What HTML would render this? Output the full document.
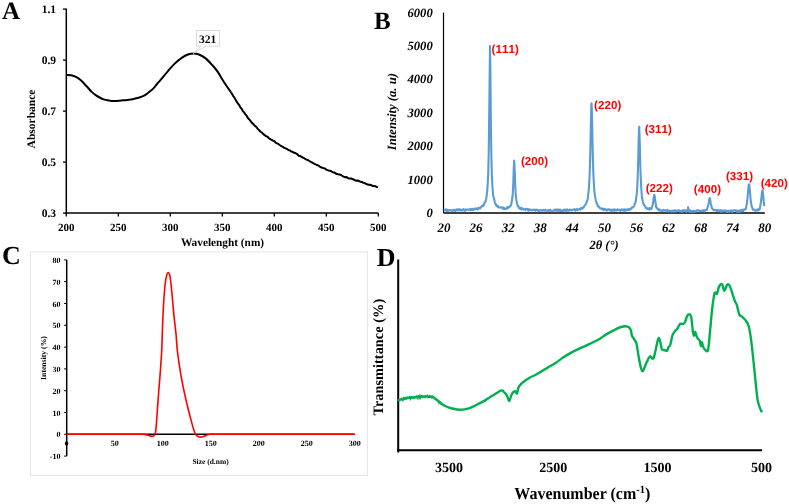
<!DOCTYPE html>
<html><head><meta charset="utf-8"><style>
html,body{margin:0;padding:0;background:#fff;}
svg{display:block;will-change:transform;}
text{text-rendering:geometricPrecision;}
.s{font-family:"Liberation Serif",serif;font-weight:bold;fill:#000;}
.si{font-family:"Liberation Serif",serif;font-weight:bold;font-style:italic;fill:#000;}
.r{font-family:"Liberation Sans",sans-serif;font-weight:bold;fill:#ff0000;font-kerning:none;letter-spacing:0.05px;}
</style></head><body>
<svg width="789" height="504" viewBox="0 0 789 504">
<rect width="789" height="504" fill="#fff"/>
<text class="s" x="2.00" y="18.80" font-size="25">A</text>
<line x1="66.3" y1="8.6" x2="66.3" y2="213.79999999999998" stroke="#000" stroke-width="1.5"/>
<line x1="65.6" y1="213.1" x2="378.3" y2="213.1" stroke="#000" stroke-width="1.5"/>
<line x1="63.0" y1="9.1" x2="66.3" y2="9.1" stroke="#000" stroke-width="1.3"/>
<text class="s" x="56.00" y="12.90" text-anchor="end" font-size="11.5">1.1</text>
<line x1="63.0" y1="60.1" x2="66.3" y2="60.1" stroke="#000" stroke-width="1.3"/>
<text class="s" x="56.00" y="63.90" text-anchor="end" font-size="11.5">0.9</text>
<line x1="63.0" y1="111.1" x2="66.3" y2="111.1" stroke="#000" stroke-width="1.3"/>
<text class="s" x="56.00" y="114.90" text-anchor="end" font-size="11.5">0.7</text>
<line x1="63.0" y1="162.1" x2="66.3" y2="162.1" stroke="#000" stroke-width="1.3"/>
<text class="s" x="56.00" y="165.90" text-anchor="end" font-size="11.5">0.5</text>
<line x1="63.0" y1="213.1" x2="66.3" y2="213.1" stroke="#000" stroke-width="1.3"/>
<text class="s" x="56.00" y="216.90" text-anchor="end" font-size="11.5">0.3</text>
<line x1="66.3" y1="213.1" x2="66.3" y2="216.4" stroke="#000" stroke-width="1.3"/>
<text class="s" x="66.30" y="231.00" text-anchor="middle" font-size="11">200</text>
<line x1="118.3" y1="213.1" x2="118.3" y2="216.4" stroke="#000" stroke-width="1.3"/>
<text class="s" x="118.30" y="231.00" text-anchor="middle" font-size="11">250</text>
<line x1="170.3" y1="213.1" x2="170.3" y2="216.4" stroke="#000" stroke-width="1.3"/>
<text class="s" x="170.30" y="231.00" text-anchor="middle" font-size="11">300</text>
<line x1="222.3" y1="213.1" x2="222.3" y2="216.4" stroke="#000" stroke-width="1.3"/>
<text class="s" x="222.30" y="231.00" text-anchor="middle" font-size="11">350</text>
<line x1="274.3" y1="213.1" x2="274.3" y2="216.4" stroke="#000" stroke-width="1.3"/>
<text class="s" x="274.30" y="231.00" text-anchor="middle" font-size="11">400</text>
<line x1="326.3" y1="213.1" x2="326.3" y2="216.4" stroke="#000" stroke-width="1.3"/>
<text class="s" x="326.30" y="231.00" text-anchor="middle" font-size="11">450</text>
<line x1="378.3" y1="213.1" x2="378.3" y2="216.4" stroke="#000" stroke-width="1.3"/>
<text class="s" x="378.30" y="231.00" text-anchor="middle" font-size="11">500</text>
<text class="s" x="222.50" y="246.00" text-anchor="middle" font-size="11.3">Wavelenght (nm)</text>
<text class="s" transform="translate(35,119) rotate(-90)" text-anchor="middle" font-size="11.5">Absorbance</text>
<path d="M66.30,74.90 C67.10,74.95 69.50,74.88 71.10,75.20 C72.70,75.52 74.32,76.00 75.90,76.80 C77.48,77.60 79.28,78.93 80.60,80.00 C81.92,81.07 82.60,81.95 83.80,83.20 C85.00,84.45 86.48,86.05 87.80,87.50 C89.12,88.95 90.38,90.63 91.70,91.90 C93.02,93.17 94.37,94.17 95.70,95.10 C97.03,96.03 98.37,96.78 99.70,97.50 C101.03,98.22 102.38,98.93 103.70,99.40 C105.02,99.87 105.88,100.02 107.60,100.30 C109.32,100.58 111.35,101.10 114.00,101.10 C116.65,101.10 120.60,100.58 123.50,100.30 C126.40,100.02 128.75,99.87 131.40,99.40 C134.05,98.93 137.28,98.13 139.40,97.50 C141.52,96.87 142.78,96.27 144.10,95.60 C145.42,94.93 146.10,94.38 147.30,93.50 C148.50,92.62 150.20,91.23 151.30,90.30 C152.40,89.37 152.95,88.95 153.90,87.90 C154.85,86.85 155.85,85.38 157.00,84.00 C158.15,82.62 159.00,81.72 160.80,79.60 C162.60,77.48 165.48,73.97 167.80,71.30 C170.12,68.63 172.38,65.85 174.70,63.60 C177.02,61.35 179.38,59.35 181.70,57.80 C184.02,56.25 186.63,55.02 188.60,54.30 C190.57,53.58 191.88,53.50 193.50,53.50 C195.12,53.50 196.33,53.53 198.30,54.30 C200.27,55.07 202.98,56.32 205.30,58.10 C207.62,59.88 210.12,62.70 212.20,65.00 C214.28,67.30 215.95,69.23 217.80,71.90 C219.65,74.57 221.22,77.75 223.30,81.00 C225.38,84.25 229.13,89.67 230.30,91.40" fill="none" stroke="#000" stroke-width="2"/>
<polyline points="230.30,91.40 231.62,93.24 232.95,95.59 234.28,97.51 235.60,99.70 236.80,101.72 238.00,103.66 239.20,105.08 240.40,107.40 241.62,108.69 242.85,111.15 244.08,112.36 245.30,114.30 246.68,115.81 248.05,118.25 249.43,119.52 250.80,121.30 252.20,123.12 253.60,124.32 255.00,125.99 256.40,127.07 257.80,128.90 259.18,130.26 260.56,131.71 261.94,132.64 263.32,134.08 264.70,135.10 266.10,136.23 267.50,136.67 268.90,138.27 270.30,139.10 271.70,140.00 273.08,140.66 274.46,141.26 275.84,142.85 277.22,143.34 278.60,144.20 280.00,145.22 281.40,146.18 282.80,146.85 284.20,147.86 285.60,148.30 286.98,148.91 288.36,149.97 289.74,150.35 291.12,151.49 292.50,151.80 293.75,152.84 295.00,152.84 296.25,153.57 297.50,154.35 298.75,155.72 300.00,156.00 301.20,156.60 302.40,157.43 303.60,157.80 304.80,158.65 306.00,159.30 307.48,159.97 308.95,160.72 310.42,161.70 311.90,162.40 313.10,163.04 314.30,163.88 315.50,164.24 316.70,165.03 317.90,165.20 319.38,166.30 320.85,167.19 322.32,167.68 323.80,168.30 325.00,168.48 326.20,169.58 327.40,170.16 328.60,170.58 329.80,170.70 331.27,171.41 332.75,172.19 334.23,172.39 335.70,173.30 336.90,174.04 338.10,174.25 339.30,174.43 340.50,174.67 341.70,175.50 343.18,176.42 344.65,177.14 346.12,176.93 347.60,177.90 348.80,178.49 350.00,178.46 351.20,178.55 352.40,178.99 353.60,179.50 355.08,180.22 356.55,180.79 358.02,180.51 359.50,181.40 360.70,181.92 361.90,181.83 363.10,182.86 364.30,182.93 365.50,183.50 366.98,184.27 368.45,184.78 369.92,184.78 371.40,185.20 372.72,186.09 374.04,185.91 375.36,186.14 376.68,187.05 378.00,187.40" fill="none" stroke="#000" stroke-width="2" stroke-linejoin="round"/>
<path d="M196.5,30.5 H219.5 V46.2 H206 L193,53.5 L201,46.2 H196.5 Z" fill="#fff" stroke="#d0d0d0" stroke-width="0.8"/>
<text class="s" x="207.50" y="43.00" text-anchor="middle" font-size="11.5">321</text>
<text class="s" x="374.00" y="29.00" font-size="25">B</text>
<line x1="443.5" y1="12.6" x2="443.5" y2="212.9" stroke="#000" stroke-width="1.2"/>
<line x1="443.5" y1="212.9" x2="764.8" y2="212.9" stroke="#000" stroke-width="1.5"/>
<text class="si" x="432.80" y="216.90" text-anchor="end" font-size="12.7">0</text>
<text class="si" x="432.80" y="183.50" text-anchor="end" font-size="12.7">1000</text>
<text class="si" x="432.80" y="150.10" text-anchor="end" font-size="12.7">2000</text>
<text class="si" x="432.80" y="116.70" text-anchor="end" font-size="12.7">3000</text>
<text class="si" x="432.80" y="83.30" text-anchor="end" font-size="12.7">4000</text>
<text class="si" x="432.80" y="49.90" text-anchor="end" font-size="12.7">5000</text>
<text class="si" x="432.80" y="16.50" text-anchor="end" font-size="12.7">6000</text>
<text class="si" x="444.00" y="232.00" text-anchor="middle" font-size="13">20</text>
<text class="si" x="476.08" y="232.00" text-anchor="middle" font-size="13">26</text>
<text class="si" x="508.16" y="232.00" text-anchor="middle" font-size="13">32</text>
<text class="si" x="540.25" y="232.00" text-anchor="middle" font-size="13">38</text>
<text class="si" x="572.33" y="232.00" text-anchor="middle" font-size="13">44</text>
<text class="si" x="604.41" y="232.00" text-anchor="middle" font-size="13">50</text>
<text class="si" x="636.49" y="232.00" text-anchor="middle" font-size="13">56</text>
<text class="si" x="668.57" y="232.00" text-anchor="middle" font-size="13">62</text>
<text class="si" x="700.66" y="232.00" text-anchor="middle" font-size="13">68</text>
<text class="si" x="732.74" y="232.00" text-anchor="middle" font-size="13">74</text>
<text class="si" x="764.82" y="232.00" text-anchor="middle" font-size="13">80</text>
<text class="si" x="604.00" y="248.60" text-anchor="middle" font-size="12.5">2θ (°)</text>
<text class="si" transform="translate(396.3,111.6) rotate(-90)" text-anchor="middle" font-size="12.7">Intensity (a. u)</text>
<polyline points="443.80,209.38 444.30,209.67 444.80,210.05 445.30,210.41 445.80,209.59 446.30,209.39 446.80,210.87 447.30,209.87 447.80,211.03 448.30,210.91 448.80,209.98 449.30,210.12 449.80,210.22 450.30,210.44 450.80,210.35 451.30,210.28 451.80,210.39 452.30,210.96 452.80,210.18 453.30,210.03 453.80,210.55 454.30,209.68 454.80,209.78 455.30,211.00 455.80,210.17 456.30,210.21 456.80,209.24 457.30,209.96 457.80,210.25 458.30,209.23 458.80,210.29 459.30,210.31 459.80,209.27 460.30,210.28 460.80,209.98 461.30,210.36 461.80,209.76 462.30,210.38 462.80,210.42 463.30,209.12 463.80,209.18 464.30,210.27 464.80,210.77 465.30,209.47 465.80,209.82 466.30,210.04 466.80,209.53 467.30,209.59 467.80,209.47 468.30,209.55 468.80,209.92 469.30,209.36 469.80,209.47 470.30,210.15 470.80,208.77 471.30,209.70 471.80,209.96 472.30,209.15 472.80,208.94 473.30,209.93 473.80,208.85 474.30,208.69 474.80,209.07 475.30,209.46 475.80,208.30 476.30,208.61 476.80,208.52 477.30,209.31 477.80,208.47 478.30,209.08 478.80,207.68 479.30,207.81 479.80,208.17 480.30,208.37 480.80,207.33 481.30,206.62 481.80,206.10 482.30,206.44 482.80,205.36 483.30,205.92 483.80,205.32 484.30,203.35 484.80,202.53 485.30,202.24 485.80,200.33 486.30,198.45 486.80,194.57 487.30,189.66 487.80,182.80 488.30,171.44 488.80,147.83 489.30,106.19 490.00,46.04 490.30,61.99 490.80,116.46 491.30,153.71 491.80,173.77 492.30,184.71 492.80,191.17 493.30,196.24 493.80,197.68 494.30,199.44 494.80,202.65 495.30,203.70 495.80,204.82 496.30,204.58 496.80,206.12 497.30,206.59 497.80,205.75 498.30,207.05 498.80,207.53 499.30,207.48 499.80,207.44 500.30,207.22 500.80,207.48 501.30,207.41 501.80,207.24 502.30,208.27 502.80,207.80 503.30,208.80 503.80,207.46 504.30,209.02 504.80,208.65 505.30,209.04 505.80,208.95 506.30,208.90 506.80,208.23 507.30,207.09 507.80,208.25 508.30,207.01 508.80,206.97 509.30,207.26 509.80,206.54 510.30,205.69 510.80,205.73 511.30,203.82 511.80,201.29 512.30,197.78 512.80,193.05 513.30,182.09 513.80,167.26 514.20,160.66 514.80,173.38 515.30,186.94 515.80,195.78 516.30,199.69 516.80,202.19 517.30,204.55 517.80,206.23 518.30,205.91 518.80,207.64 519.30,208.35 519.80,208.51 520.30,208.85 520.80,207.63 521.30,208.95 521.80,209.55 522.30,208.23 522.80,208.76 523.30,208.87 523.80,209.43 524.30,209.33 524.80,209.50 525.30,210.12 525.80,208.78 526.30,208.93 526.80,209.11 527.30,209.16 527.80,209.10 528.30,210.77 528.80,210.58 529.30,209.23 529.80,210.01 530.30,209.70 530.80,209.73 531.30,209.81 531.80,210.37 532.30,210.28 532.80,209.89 533.30,209.60 533.80,209.87 534.30,209.52 534.80,210.31 535.30,210.61 535.80,210.02 536.30,209.49 536.80,209.68 537.30,210.04 537.80,210.47 538.30,210.80 538.80,210.08 539.30,210.85 539.80,210.53 540.30,210.20 540.80,210.10 541.30,210.33 541.80,210.70 542.30,210.20 542.80,210.70 543.30,210.29 543.80,209.90 544.30,210.43 544.80,210.72 545.30,209.60 545.80,210.24 546.30,210.25 546.80,211.07 547.30,211.17 547.80,210.16 548.30,211.11 548.80,210.92 549.30,209.97 549.80,210.33 550.30,209.72 550.80,210.96 551.30,210.69 551.80,211.10 552.30,210.93 552.80,210.70 553.30,210.82 553.80,210.51 554.30,209.68 554.80,210.56 555.30,209.51 555.80,209.75 556.30,210.89 556.80,209.57 557.30,209.65 557.80,209.66 558.30,211.07 558.80,209.80 559.30,209.52 559.80,210.98 560.30,209.68 560.80,210.98 561.30,210.67 561.80,210.95 562.30,211.15 562.80,210.48 563.30,210.86 563.80,209.48 564.30,210.79 564.80,210.32 565.30,210.67 565.80,209.57 566.30,210.71 566.80,211.03 567.30,209.44 567.80,209.90 568.30,210.32 568.80,210.78 569.30,209.70 569.80,209.57 570.30,209.67 570.80,210.31 571.30,210.53 571.80,209.85 572.30,209.77 572.80,209.79 573.30,209.67 573.80,209.76 574.30,209.11 574.80,209.81 575.30,210.61 575.80,209.55 576.30,210.09 576.80,208.97 577.30,209.85 577.80,209.88 578.30,209.64 578.80,209.25 579.30,209.08 579.80,209.24 580.30,209.55 580.80,208.04 581.30,207.75 581.80,208.71 582.30,208.76 582.80,207.76 583.30,207.29 583.80,207.38 584.30,205.95 584.80,205.53 585.30,204.71 585.80,204.54 586.30,202.97 586.80,201.43 587.30,200.42 587.80,198.41 588.30,193.77 588.80,189.49 589.30,181.42 589.80,170.51 590.30,151.94 590.80,126.94 591.30,105.67 591.50,103.24 591.80,108.57 592.30,132.21 592.80,155.59 593.30,172.14 593.80,182.50 594.30,190.25 594.80,194.72 595.30,197.58 595.80,200.24 596.30,201.91 596.80,204.05 597.30,203.95 597.80,206.30 598.30,206.04 598.80,206.81 599.30,207.03 599.80,208.08 600.30,208.38 600.80,208.19 601.30,208.29 601.80,208.93 602.30,209.36 602.80,208.70 603.30,209.44 603.80,209.98 604.30,209.20 604.80,208.87 605.30,208.97 605.80,209.92 606.30,209.92 606.80,210.50 607.30,210.37 607.80,209.32 608.30,209.27 608.80,209.44 609.30,209.35 609.80,210.32 610.30,210.63 610.80,210.73 611.30,209.60 611.80,210.72 612.30,209.75 612.80,209.97 613.30,210.54 613.80,209.39 614.30,209.42 614.80,210.76 615.30,209.80 615.80,209.92 616.30,210.33 616.80,210.50 617.30,209.30 617.80,209.89 618.30,210.07 618.80,210.16 619.30,209.66 619.80,210.33 620.30,210.98 620.80,209.95 621.30,210.22 621.80,209.43 622.30,209.69 622.80,210.37 623.30,209.35 623.80,210.71 624.30,210.72 624.80,209.22 625.30,210.69 625.80,209.62 626.30,210.28 626.80,210.18 627.30,209.28 627.80,209.88 628.30,209.74 628.80,209.90 629.30,208.79 629.80,209.52 630.30,209.72 630.80,208.99 631.30,208.50 631.80,207.44 632.30,207.77 632.80,207.08 633.30,207.21 633.80,206.46 634.30,205.40 634.80,203.58 635.30,202.90 635.80,200.77 636.30,196.94 636.80,193.68 637.30,186.15 637.80,173.71 638.30,156.50 638.80,135.05 639.20,126.81 639.80,143.30 640.30,165.25 640.80,179.00 641.30,188.81 641.80,195.42 642.30,199.04 642.80,201.56 643.30,203.56 643.80,204.55 644.30,205.30 644.80,205.82 645.30,206.23 645.80,207.88 646.30,208.33 646.80,208.26 647.30,208.86 647.80,208.37 648.30,208.36 648.80,208.68 649.30,209.63 649.80,208.15 650.30,208.95 650.80,208.36 651.30,209.02 651.80,207.67 652.30,206.39 652.80,204.22 653.30,200.93 653.80,196.81 654.30,194.78 654.80,196.91 655.30,201.54 655.80,204.41 656.30,207.70 656.80,207.73 657.30,208.72 657.80,208.81 658.30,209.09 658.80,210.46 659.30,210.50 659.80,209.63 660.30,209.72 660.80,210.20 661.30,210.85 661.80,211.03 662.30,210.95 662.80,210.70 663.30,209.94 663.80,210.42 664.30,210.08 664.80,210.70 665.30,210.80 665.80,210.16 666.30,210.26 666.80,211.23 667.30,209.90 667.80,211.30 668.30,211.48 668.80,211.59 669.30,210.59 669.80,210.90 670.30,210.97 670.80,211.07 671.30,211.70 671.80,211.18 672.30,210.49 672.80,211.51 673.30,210.84 673.80,211.06 674.30,211.29 674.80,210.00 675.30,211.39 675.80,211.20 676.30,210.90 676.80,210.96 677.30,210.85 677.80,210.38 678.30,210.99 678.80,210.11 679.30,210.94 679.80,211.21 680.30,210.85 680.80,211.08 681.30,211.79 681.80,211.67 682.30,210.31 682.80,211.50 683.30,211.20 683.80,210.17 684.30,210.73 684.80,210.51 685.30,210.23 685.80,211.06 686.30,211.77 686.80,210.68 687.30,210.90 687.80,208.72 688.10,207.20 688.80,210.77 689.30,211.67 689.80,211.36 690.30,210.35 690.80,211.66 691.30,211.20 691.80,211.78 692.30,211.40 692.80,211.45 693.30,210.73 693.80,211.57 694.30,211.79 694.80,211.66 695.30,210.90 695.80,211.47 696.30,210.98 696.80,210.30 697.30,210.18 697.80,210.24 698.30,210.45 698.80,210.37 699.30,210.97 699.80,211.32 700.30,211.02 700.80,210.80 701.30,211.19 701.80,210.55 702.30,210.81 702.80,211.31 703.30,210.63 703.80,210.18 704.30,211.41 704.80,211.00 705.30,210.25 705.80,210.10 706.30,210.14 706.80,209.83 707.30,208.37 707.80,206.57 708.30,204.67 708.80,202.13 709.30,199.14 709.70,198.14 710.30,200.22 710.80,203.94 711.30,205.58 711.80,208.06 712.30,208.71 712.80,209.36 713.30,209.63 713.80,210.26 714.30,209.98 714.80,209.83 715.30,210.05 715.80,210.22 716.30,210.85 716.80,210.11 717.30,210.08 717.80,210.87 718.30,210.82 718.80,211.37 719.30,210.21 719.80,210.86 720.30,210.86 720.80,210.21 721.30,211.91 721.80,210.57 722.30,210.35 722.80,211.04 723.30,210.49 723.80,211.32 724.30,210.83 724.80,210.43 725.30,210.30 725.80,211.52 726.30,210.71 726.80,211.63 727.30,211.05 727.80,211.90 728.30,210.76 728.80,210.67 729.30,210.70 729.80,211.68 730.30,211.35 730.80,210.83 731.30,210.38 731.80,211.44 732.30,211.95 732.80,211.27 733.30,210.20 733.80,210.24 734.30,210.35 734.80,210.48 735.30,210.23 735.80,210.25 736.30,211.32 736.80,211.75 737.30,210.47 737.80,211.85 738.30,210.93 738.80,211.50 739.30,211.67 739.80,211.68 740.30,210.01 740.80,210.45 741.30,210.94 741.80,211.48 742.30,209.85 742.80,210.12 743.30,211.00 743.80,209.51 744.30,209.78 744.80,209.36 745.30,209.46 745.80,209.01 746.30,206.05 746.80,204.36 747.30,200.24 747.80,194.99 748.30,188.61 748.80,184.71 749.00,184.31 749.30,185.19 749.80,189.69 750.30,195.62 750.80,201.48 751.30,204.28 751.80,206.81 752.30,207.89 752.80,209.67 753.30,209.58 753.80,209.47 754.30,209.47 754.80,210.59 755.30,210.46 755.80,210.70 756.30,210.13 756.80,210.30 757.30,209.65 757.80,210.57 758.30,209.18 758.80,209.72 759.30,209.76 759.80,208.66 760.30,205.77 760.80,202.82 761.30,199.27 761.80,193.46 762.40,190.19 762.80,191.78 763.30,196.59 763.80,201.92 764.30,206.18" fill="none" stroke="#5b9bd5" stroke-width="2.1" stroke-linejoin="round"/>
<text class="r" x="491.60" y="52.90" font-size="11.6">(111)</text>
<text class="r" x="520.90" y="165.30" font-size="11.6">(200)</text>
<text class="r" x="594.10" y="108.80" font-size="11.6">(220)</text>
<text class="r" x="644.70" y="133.20" font-size="11.6">(311)</text>
<text class="r" x="645.70" y="192.30" font-size="11.6">(222)</text>
<text class="r" x="693.80" y="193.30" font-size="11.6">(400)</text>
<text class="r" x="725.90" y="179.70" font-size="11.6">(331)</text>
<text class="r" x="760.70" y="186.70" font-size="11.6">(420)</text>
<rect x="30.6" y="251.9" width="336.8" height="223.6" fill="none" stroke="#e4e4e4" stroke-width="1"/>
<text class="s" x="2.00" y="264.40" font-size="26">C</text>
<line x1="66.7" y1="259.9" x2="66.7" y2="456.1" stroke="#000" stroke-width="1.5"/>
<line x1="66.7" y1="434.29999999999995" x2="354.7" y2="434.29999999999995" stroke="#000" stroke-width="1.4"/>
<line x1="64.10000000000001" y1="259.9" x2="66.7" y2="259.9" stroke="#000" stroke-width="1"/>
<text class="s" x="60.40" y="262.90" text-anchor="end" font-size="8">80</text>
<line x1="64.10000000000001" y1="281.7" x2="66.7" y2="281.7" stroke="#000" stroke-width="1"/>
<text class="s" x="60.40" y="284.70" text-anchor="end" font-size="8">70</text>
<line x1="64.10000000000001" y1="303.5" x2="66.7" y2="303.5" stroke="#000" stroke-width="1"/>
<text class="s" x="60.40" y="306.50" text-anchor="end" font-size="8">60</text>
<line x1="64.10000000000001" y1="325.29999999999995" x2="66.7" y2="325.29999999999995" stroke="#000" stroke-width="1"/>
<text class="s" x="60.40" y="328.30" text-anchor="end" font-size="8">50</text>
<line x1="64.10000000000001" y1="347.09999999999997" x2="66.7" y2="347.09999999999997" stroke="#000" stroke-width="1"/>
<text class="s" x="60.40" y="350.10" text-anchor="end" font-size="8">40</text>
<line x1="64.10000000000001" y1="368.9" x2="66.7" y2="368.9" stroke="#000" stroke-width="1"/>
<text class="s" x="60.40" y="371.90" text-anchor="end" font-size="8">30</text>
<line x1="64.10000000000001" y1="390.7" x2="66.7" y2="390.7" stroke="#000" stroke-width="1"/>
<text class="s" x="60.40" y="393.70" text-anchor="end" font-size="8">20</text>
<line x1="64.10000000000001" y1="412.5" x2="66.7" y2="412.5" stroke="#000" stroke-width="1"/>
<text class="s" x="60.40" y="415.50" text-anchor="end" font-size="8">10</text>
<line x1="64.10000000000001" y1="434.29999999999995" x2="66.7" y2="434.29999999999995" stroke="#000" stroke-width="1"/>
<text class="s" x="60.40" y="437.30" text-anchor="end" font-size="8">0</text>
<line x1="64.10000000000001" y1="456.1" x2="66.7" y2="456.1" stroke="#000" stroke-width="1"/>
<text class="s" x="60.40" y="459.10" text-anchor="end" font-size="8">-10</text>
<text class="s" x="114.70" y="446.30" text-anchor="middle" font-size="8">50</text>
<text class="s" x="162.70" y="446.30" text-anchor="middle" font-size="8">100</text>
<text class="s" x="210.70" y="446.30" text-anchor="middle" font-size="8">150</text>
<text class="s" x="258.70" y="446.30" text-anchor="middle" font-size="8">200</text>
<text class="s" x="306.70" y="446.30" text-anchor="middle" font-size="8">250</text>
<text class="s" x="354.70" y="446.30" text-anchor="middle" font-size="8">300</text>
<ellipse cx="66.6" cy="443.4" rx="1.7" ry="2.2" fill="#000"/>
<text class="s" x="210.50" y="463.90" text-anchor="middle" font-size="7.5">Size (d.nm)</text>
<text class="s" transform="translate(46.1,358) rotate(-90)" text-anchor="middle" font-size="7.7">Intensity (%)</text>
<path d="M66.7,434.3 L142,434.3  C142.43,434.32 143.60,434.25 144.60,434.40 C145.60,434.55 146.87,434.90 148.00,435.20 C149.13,435.50 150.48,436.07 151.40,436.20 C152.32,436.33 152.93,436.20 153.50,436.00 C154.07,435.80 154.45,435.67 154.80,435.00 C155.15,434.33 155.30,434.32 155.60,432.00 C155.90,429.68 156.17,426.72 156.60,421.10 C157.03,415.48 157.63,405.88 158.20,398.30 C158.77,390.72 159.43,383.18 160.00,375.60 C160.57,368.02 161.22,359.73 161.60,352.80 C161.98,345.87 162.12,339.13 162.30,334.00 C162.48,328.87 162.53,326.17 162.70,322.00 C162.87,317.83 163.07,313.33 163.30,309.00 C163.53,304.67 163.80,300.08 164.10,296.00 C164.40,291.92 164.70,287.83 165.10,284.50 C165.50,281.17 166.00,277.98 166.50,276.00 C167.00,274.02 167.57,272.77 168.10,272.60 C168.63,272.43 169.23,273.27 169.70,275.00 C170.17,276.73 170.53,280.00 170.90,283.00 C171.27,286.00 171.57,289.50 171.90,293.00 C172.23,296.50 172.57,300.33 172.90,304.00 C173.23,307.67 173.55,311.50 173.90,315.00 C174.25,318.50 174.63,321.67 175.00,325.00 C175.37,328.33 175.67,330.37 176.10,335.00 C176.53,339.63 176.78,346.03 177.60,352.80 C178.42,359.57 179.67,368.02 181.00,375.60 C182.33,383.18 183.88,390.72 185.60,398.30 C187.32,405.88 189.78,415.40 191.30,421.10 C192.82,426.80 193.75,430.03 194.70,432.50 C195.65,434.97 196.05,435.13 197.00,435.90 C197.95,436.67 199.08,437.10 200.40,437.10 C201.72,437.10 203.72,436.28 204.90,435.90 C206.08,435.52 206.73,435.07 207.50,434.80 C208.27,434.53 208.75,434.38 209.50,434.30 C210.25,434.22 211.58,434.30 212.00,434.30 L354.5,434.3" fill="none" stroke="#ff0000" stroke-width="1.6"/>
<text class="s" x="376.80" y="266.00" font-size="26">D</text>
<line x1="398.2" y1="259.5" x2="398.2" y2="452.5" stroke="#000" stroke-width="2"/>
<line x1="397.2" y1="450.2" x2="762" y2="450.2" stroke="#000" stroke-width="2"/>
<text class="s" x="449.00" y="472.00" text-anchor="middle" font-size="14">3500</text>
<text class="s" x="553.20" y="472.00" text-anchor="middle" font-size="14">2500</text>
<text class="s" x="657.40" y="472.00" text-anchor="middle" font-size="14">1500</text>
<text class="s" x="761.60" y="472.00" text-anchor="middle" font-size="14">500</text>
<text class="s" transform="translate(382.7,357.2) rotate(-90)" text-anchor="middle" font-size="14.4">Transmittance (%)</text>
<text class="s" transform="translate(514.3,498.7) scale(1,1.06)" font-size="16">Wavenumber (cm<tspan dy="-5.5" font-size="10.5">-1</tspan><tspan dy="5.5">)</tspan></text>
<path d="M438.30,401.10 C438.88,401.58 440.47,403.10 441.80,404.00 C443.13,404.90 444.60,405.75 446.30,406.50 C448.00,407.25 449.90,407.97 452.00,408.50 C454.10,409.03 456.62,409.60 458.90,409.70 C461.18,409.80 463.42,409.58 465.70,409.10 C467.98,408.62 470.32,407.75 472.60,406.80 C474.88,405.85 477.32,404.47 479.40,403.40 C481.48,402.33 483.32,401.47 485.10,400.40 C486.88,399.33 488.42,398.07 490.10,397.00 C491.78,395.93 493.50,395.02 495.20,394.00 C496.90,392.98 499.12,391.50 500.30,390.90 C501.48,390.30 501.63,390.13 502.30,390.40 C502.97,390.67 503.53,391.65 504.30,392.50 C505.07,393.35 506.08,394.07 506.90,395.50 C507.72,396.93 508.45,401.18 509.20,401.10 C509.95,401.02 510.68,396.52 511.40,395.00 C512.12,393.48 512.82,392.60 513.50,392.00 C514.18,391.40 514.92,391.15 515.50,391.40 C516.08,391.65 516.50,394.17 517.00,393.50 C517.50,392.83 517.73,389.10 518.50,387.40 C519.27,385.70 520.42,384.48 521.60,383.30 C522.78,382.12 524.20,381.27 525.60,380.30 C527.00,379.33 528.30,378.43 530.00,377.50 C531.70,376.57 534.13,375.58 535.80,374.70 C537.47,373.82 537.98,373.40 540.00,372.20 C542.02,371.00 545.25,369.08 547.90,367.50 C550.55,365.92 553.25,364.43 555.90,362.70 C558.55,360.97 561.17,358.82 563.80,357.10 C566.43,355.38 569.05,353.85 571.70,352.40 C574.35,350.95 577.05,349.65 579.70,348.40 C582.35,347.15 584.95,346.13 587.60,344.90 C590.25,343.67 593.48,342.08 595.60,341.00 C597.72,339.92 598.45,339.55 600.30,338.40 C602.15,337.25 604.32,335.53 606.70,334.10 C609.08,332.67 612.22,330.98 614.60,329.80 C616.98,328.62 619.15,327.60 621.00,327.00 C622.85,326.40 624.38,326.15 625.70,326.20 C627.02,326.25 628.05,326.63 628.90,327.30 C629.75,327.97 630.30,328.80 630.80,330.20 C631.30,331.60 631.38,334.27 631.90,335.70 C632.42,337.13 633.28,337.82 633.90,338.80 C634.52,339.78 635.15,340.73 635.60,341.60 C636.05,342.47 636.12,341.67 636.60,344.00 C637.08,346.33 637.83,351.82 638.50,355.60 C639.17,359.38 639.93,364.07 640.60,366.70 C641.27,369.33 641.80,371.40 642.50,371.40 C643.20,371.40 644.02,368.42 644.80,366.70 C645.58,364.98 646.32,362.83 647.20,361.10 C648.08,359.37 649.30,356.75 650.10,356.30 C650.90,355.85 651.42,358.13 652.00,358.40 C652.58,358.67 653.02,359.17 653.60,357.90 C654.18,356.63 654.85,353.57 655.50,350.80 C656.15,348.03 656.90,343.42 657.50,341.30 C658.10,339.18 658.57,337.70 659.10,338.10 C659.63,338.50 660.25,341.85 660.70,343.70 C661.15,345.55 661.27,348.15 661.80,349.20 C662.33,350.25 663.28,349.78 663.90,350.00 C664.52,350.22 664.97,350.37 665.50,350.50 C666.03,350.63 666.57,351.42 667.10,350.80 C667.63,350.18 668.18,347.73 668.70,346.80 C669.22,345.87 669.55,347.18 670.20,345.20 C670.85,343.22 671.67,337.40 672.60,334.90 C673.53,332.40 675.00,331.25 675.80,330.20 C676.60,329.15 676.67,329.67 677.40,328.60 C678.13,327.53 679.28,324.55 680.20,323.80 C681.12,323.05 682.10,324.37 682.90,324.10 C683.70,323.83 684.28,323.57 685.00,322.20 C685.72,320.83 686.45,317.22 687.20,315.90 C687.95,314.58 688.82,314.03 689.50,314.30 C690.18,314.57 690.73,314.60 691.30,317.50 C691.87,320.40 692.45,328.67 692.90,331.70 C693.35,334.73 693.62,335.70 694.00,335.70 C694.38,335.70 694.80,331.70 695.20,331.70 C695.60,331.70 695.93,334.50 696.40,335.70 C696.87,336.90 697.47,338.10 698.00,338.90 C698.53,339.70 699.12,339.32 699.60,340.50 C700.08,341.68 700.50,345.73 700.90,346.00 C701.30,346.27 701.63,341.97 702.00,342.10 C702.37,342.23 702.58,345.53 703.10,346.80 C703.62,348.07 704.27,349.22 705.10,349.70 C705.93,350.18 707.25,353.07 708.10,349.70 C708.95,346.33 709.52,336.33 710.20,329.50 C710.88,322.67 711.47,314.75 712.20,308.70 C712.93,302.65 713.80,295.68 714.60,293.20 C715.40,290.72 716.25,294.93 717.00,293.80 C717.75,292.67 718.25,287.98 719.10,286.40 C719.95,284.82 721.25,283.57 722.10,284.30 C722.95,285.03 723.37,290.70 724.20,290.80 C725.03,290.90 726.22,285.78 727.10,284.90 C727.98,284.02 728.60,284.02 729.50,285.50 C730.40,286.98 731.60,291.18 732.50,293.80 C733.40,296.42 734.17,299.32 734.90,301.20 C735.63,303.08 736.17,302.87 736.90,305.10 C737.63,307.33 738.45,312.67 739.30,314.60 C740.15,316.53 740.90,315.70 742.00,316.70 C743.10,317.70 744.77,318.97 745.90,320.60 C747.03,322.23 747.97,323.53 748.80,326.50 C749.63,329.47 750.15,332.93 750.90,338.40 C751.65,343.87 752.50,351.85 753.30,359.30 C754.10,366.75 754.95,376.17 755.70,383.10 C756.45,390.03 756.97,396.45 757.80,400.90 C758.63,405.35 759.97,407.92 760.70,409.80 C761.43,411.68 761.95,411.80 762.20,412.20" fill="none" stroke="#00b050" stroke-width="2.4"/>
<path d="M398.00,400.20 C398.63,400.07 400.40,399.72 401.80,399.40 C403.20,399.08 404.68,398.62 406.40,398.30 C408.12,397.98 410.20,397.70 412.10,397.50 C414.00,397.30 415.90,397.27 417.80,397.10 C419.70,396.93 421.60,396.60 423.50,396.50 C425.40,396.40 427.68,396.40 429.20,396.50 C430.72,396.60 431.55,396.72 432.60,397.10 C433.65,397.48 434.55,398.13 435.50,398.80 C436.45,399.47 437.25,400.23 438.30,401.10 C439.35,401.97 441.22,403.52 441.80,404.00" fill="none" stroke="#00b050" stroke-width="2.4"/>
<polyline points="398.00,401.17 398.60,399.94 399.20,400.98 399.80,400.43 400.40,399.26 401.00,399.23 401.60,398.33 402.20,399.04 402.80,400.35 403.40,397.99 404.00,399.05 404.60,397.72 405.20,397.50 405.80,398.83 406.40,397.63 407.00,397.04 407.60,397.23 408.20,398.42 408.80,398.19 409.40,396.61 410.00,397.09 410.60,398.93 411.20,396.90 411.80,397.70 412.40,397.27 413.00,398.17 413.60,397.67 414.20,398.10 414.80,397.40 415.40,396.46 416.00,396.39 416.60,396.09 417.20,397.99 417.80,396.09 418.40,395.80 419.00,398.19 419.60,396.13 420.20,397.87 420.80,395.71 421.40,396.63 422.00,395.94 422.60,397.45 423.20,396.83 423.80,396.87 424.40,397.18 425.00,397.47 425.60,396.10 426.20,396.77 426.80,396.36 427.40,395.49 428.00,397.37 428.60,396.75 429.20,397.32 429.80,395.84 430.40,396.81 431.00,396.72 431.60,397.52 432.20,395.93 432.80,396.82 433.40,397.53 434.00,396.81 434.60,398.41 435.20,399.24 435.80,398.85 436.40,399.93 437.00,400.31 437.60,399.78 438.20,400.63 438.80,402.80 439.40,401.58" fill="none" stroke="#00b050" stroke-width="1.4"/>
</svg>
</body></html>
